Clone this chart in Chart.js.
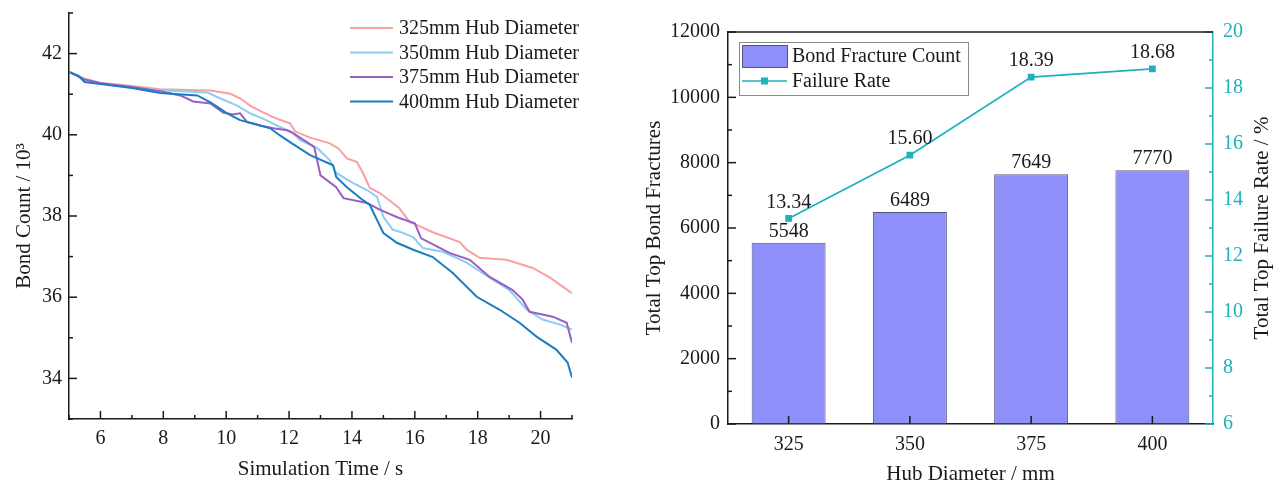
<!DOCTYPE html>
<html><head><meta charset="utf-8">
<script src="https://cdn.jsdelivr.net/npm/chart.js@4.4.1/dist/chart.umd.min.js"></script>
<style>
html,body{margin:0;padding:0;background:#fff;overflow:hidden;}
#c1{position:absolute;left:0;top:0;}
#c2{position:absolute;left:620px;top:0;}
</style></head><body>
<canvas id="c1" width="620" height="488"></canvas>
<canvas id="c2" width="658" height="488"></canvas>
<script>
// ---------- data: left chart ----------
const seriesLabels = ['325mm Hub Diameter','350mm Hub Diameter','375mm Hub Diameter','400mm Hub Diameter'];
const seriesColors = ['#f7a1a1','#8dcdf1','#9a5fc3','#1a7dc1'];
const t325 = [5,5.5,6,7,7.9,9.5,10.13,10.44,10.76,11.17,11.6,12.03,12.2,12.67,13.3,13.56,13.84,14.16,14.35,14.57,14.9,15.3,15.5,15.84,16.06,16.57,17.43,17.65,18.06,18.92,19.75,20.3,21];
const v325 = [41.55,41.38,41.28,41.2,41.12,41.09,41.01,40.9,40.72,40.55,40.4,40.28,40.08,39.93,39.79,39.67,39.42,39.33,39.06,38.69,38.56,38.32,38.2,37.85,37.78,37.6,37.36,37.17,36.97,36.92,36.72,36.48,36.1];
const t350 = [5,5.5,6,7,7.9,9.4,9.8,10.35,10.76,11.17,11.6,12.1,12.35,12.9,13.3,13.5,14.0,14.48,14.8,15.0,15.3,15.5,15.95,16.26,16.9,17.65,18.38,19.0,19.56,20.06,20.6,21];
const v350 = [41.55,41.36,41.27,41.18,41.1,41.04,40.9,40.72,40.53,40.4,40.23,40.06,39.87,39.67,39.37,39.06,38.83,38.64,38.47,37.98,37.66,37.62,37.48,37.21,37.12,36.85,36.48,36.18,35.69,35.45,35.33,35.2];
const t375 = [5,5.5,6,7,7.9,8.54,8.95,9.5,9.9,10.2,10.44,10.67,11.08,11.5,11.94,12.13,12.8,13.0,13.5,13.73,14.48,14.9,15.5,16.0,16.2,16.5,17.1,17.75,18.38,19.1,19.43,19.65,20.39,20.83,21];
const v375 = [41.55,41.36,41.27,41.18,41.07,40.97,40.82,40.77,40.55,40.5,40.53,40.31,40.23,40.16,40.11,40.04,39.7,39.0,38.71,38.44,38.32,38.15,37.95,37.82,37.45,37.33,37.09,36.92,36.5,36.18,35.94,35.64,35.52,35.37,34.88];
const t400 = [5,5.3,5.5,6,7,7.9,9.08,9.5,10.03,10.44,10.86,11.4,11.7,12.03,12.67,13.4,13.5,13.84,14.35,14.57,14.8,15.0,15.43,15.95,16.57,17.2,17.97,18.7,19.33,19.87,20.5,20.86,21];
const v400 = [41.55,41.45,41.3,41.25,41.15,41.03,40.97,40.8,40.53,40.36,40.28,40.16,39.99,39.82,39.5,39.25,38.96,38.71,38.39,38.27,37.9,37.58,37.34,37.17,36.99,36.6,36.01,35.69,35.37,35.03,34.71,34.39,34.02];
const seriesTimes = [t325,t350,t375,t400];
const seriesValues = [v325,v350,v375,v400];
const timeTicks = [6,8,10,12,14,16,18,20];
const bondTicks = [34,36,38,40,42];

// ---------- data: right chart ----------
const hubDiameters = ['325','350','375','400'];
const fractureCounts = [5548,6489,7649,7770];
const failureRates = [13.34,15.60,18.39,18.68];

const FONT = "'Liberation Serif','Times New Roman',serif";
const TEAL = '#1fb1bc';
const BAR = '#8f8ffa';
Chart.defaults.font.family = FONT;
Chart.defaults.color = '#1a1a1a';

function noPad(s){ s.paddingTop=0; s.paddingBottom=0; s.paddingLeft=0; s.paddingRight=0; }

const inwardTicks = {
  id:'inwardTicks',
  afterDatasetsDraw(chart, args, opts){
    const ctx = chart.ctx;
    (opts.axes||[]).forEach(a=>{
      const s = chart.scales[a.id];
      ctx.save(); ctx.strokeStyle=a.color; ctx.lineWidth=1.5;
      const drawAt=(p,len)=>{
        ctx.beginPath();
        if (s.isHorizontal()){ ctx.moveTo(p,s.top); ctx.lineTo(p,s.top-len);}
        else if (s.position==='left'){ ctx.moveTo(s.right,p); ctx.lineTo(s.right+len,p);}
        else { ctx.moveTo(s.left,p); ctx.lineTo(s.left-len,p);}
        ctx.stroke();
      };
      s.ticks.forEach((t,i)=>drawAt(s.getPixelForTick(i),8));
      if (a.minor){
        for (let v=s.min; v<=s.max+1e-9; v+=a.minor){
          if(!s.ticks.some(t=>Math.abs(t.value-v)<1e-9)) drawAt(s.getPixelForValue(v),4);
        }
      }
      ctx.restore();
    });
  }
};

// ---------- left chart ----------
const leftLegend = {
  id:'leftLegend',
  afterDraw(chart){
    const ctx = chart.ctx;
    ctx.save();
    ctx.font = '20px '+FONT; ctx.textBaseline='middle'; ctx.fillStyle='#1a1a1a';
    chart.data.datasets.forEach((ds,i)=>{
      const y = 28 + i*24.5;
      ctx.strokeStyle = ds.borderColor; ctx.lineWidth = 2;
      ctx.beginPath(); ctx.moveTo(350,y); ctx.lineTo(393,y); ctx.stroke();
      ctx.fillText(ds.label, 399, y+1);
    });
    ctx.restore();
  }
};

new Chart(document.getElementById('c1'), {
  type:'line',
  data:{datasets: seriesLabels.map((lab,i)=>({
    label: lab,
    data: seriesTimes[i].map((t,j)=>({x:t,y:seriesValues[i][j]})),
    borderColor: seriesColors[i], borderWidth:2, pointRadius:0, tension:0,
    order: 3-i, fill:false
  }))},
  options:{
    responsive:false, animation:false, devicePixelRatio:1,
    layout:{padding:{top:13,right:48,left:0,bottom:5}},
    plugins:{legend:{display:false}, tooltip:{enabled:false},
      inwardTicks:{axes:[{id:'x',color:'#1a1a1a',minor:1},{id:'y',color:'#1a1a1a',minor:1}]}},
    scales:{
      x:{type:'linear', min:5, max:21,
        ticks:{padding:8, color:'#1a1a1a', font:{size:20}, callback:v=>String(v)},
        afterBuildTicks(s){ s.ticks = timeTicks.map(v=>({value:v})); },
        grid:{display:true, drawOnChartArea:false, drawTicks:false},
        border:{display:true, color:'#1a1a1a', width:1.5},
        title:{display:true, text:'Simulation Time / s', font:{size:21}, color:'#1a1a1a', padding:{top:0,bottom:1}},
        afterFit(s){ s.height = 64; noPad(s); }
      },
      y:{type:'linear', min:33, max:43,
        ticks:{padding:7, color:'#1a1a1a', font:{size:20}, callback:v=>String(v)},
        afterBuildTicks(s){ s.ticks = bondTicks.map(v=>({value:v})); },
        grid:{display:true, drawOnChartArea:false, drawTicks:false},
        border:{display:true, color:'#1a1a1a', width:1.5},
        title:{display:true, text:'Bond Count / 10³', font:{size:21}, color:'#1a1a1a', padding:{top:12,bottom:0}},
        afterFit(s){ s.width = 69; noPad(s); }
      }
    }
  },
  plugins:[inwardTicks, leftLegend]
});

// ---------- right chart ----------
const rightExtras = {
  id:'rightExtras',
  afterDraw(chart){
    const ctx = chart.ctx; const ca = chart.chartArea;
    ctx.save();
    ctx.strokeStyle='#1a1a1a'; ctx.lineWidth=1.5;
    ctx.beginPath(); ctx.moveTo(ca.left,ca.top); ctx.lineTo(ca.right,ca.top); ctx.stroke();
    ctx.font='20px '+FONT; ctx.fillStyle='#1a1a1a'; ctx.textAlign='center'; ctx.textBaseline='middle';
    chart.data.datasets.forEach((ds,di)=>{
      const meta = chart.getDatasetMeta(di);
      meta.data.forEach((el,i)=>{
        if (ds.type==='bar') ctx.fillText(String(ds.data[i]), el.x, el.y-11);
        else ctx.fillText(ds.data[i].toFixed(2), el.x, el.y-16);
      });
    });
    ctx.save();
    ctx.translate(642, (ca.top+ca.bottom)/2);
    ctx.rotate(-Math.PI/2);
    ctx.font='21px '+FONT; ctx.fillText('Total Top Failure Rate / %',0,0);
    ctx.restore();
    const bx=119, by=42, bw=229, bh=53;
    ctx.fillStyle='#fff'; ctx.fillRect(bx,by,bw,bh);
    ctx.strokeStyle='#8a8a8a'; ctx.lineWidth=1; ctx.strokeRect(bx+0.5,by+0.5,bw,bh);
    const bar = chart.data.datasets[1], line = chart.data.datasets[0];
    ctx.fillStyle=bar.backgroundColor; ctx.fillRect(122,45,45,22);
    ctx.strokeStyle=bar.borderColor; ctx.strokeRect(122.5,45.5,45,22);
    ctx.strokeStyle=line.borderColor; ctx.lineWidth=1.5;
    ctx.beginPath(); ctx.moveTo(122,81); ctx.lineTo(167,81); ctx.stroke();
    ctx.fillStyle=line.borderColor; ctx.fillRect(141,77.5,7,7);
    ctx.fillStyle='#1a1a1a'; ctx.textAlign='left';
    ctx.fillText(bar.label,172,57);
    ctx.fillText(line.label,172,82);
    ctx.restore();
  }
};

new Chart(document.getElementById('c2'), {
  data:{
    labels: hubDiameters,
    datasets:[
      {type:'line', label:'Failure Rate', data:failureRates, yAxisID:'y2',
        borderColor:TEAL, backgroundColor:TEAL, borderWidth:1.8, pointStyle:'rect',
        pointRadius:3.5, tension:0, order:0},
      {type:'bar', label:'Bond Fracture Count', data:fractureCounts, yAxisID:'y',
        backgroundColor:BAR, borderColor:'#55557a', borderWidth:1,
        barPercentage:0.61, categoryPercentage:1.0, order:1}
    ]
  },
  options:{
    responsive:false, animation:false, devicePixelRatio:1,
    layout:{padding:{top:32,right:0,left:0,bottom:0}},
    plugins:{legend:{display:false}, tooltip:{enabled:false},
      inwardTicks:{axes:[{id:'x',color:'#1a1a1a'},{id:'y',color:'#1a1a1a',minor:1000},{id:'y2',color:TEAL,minor:1}]}},
    scales:{
      x:{type:'category', offset:true,
        ticks:{padding:9, color:'#1a1a1a', font:{size:20}},
        grid:{display:true, drawOnChartArea:false, drawTicks:false, offset:true},
        border:{display:true, color:'#1a1a1a', width:1.5},
        title:{display:true, text:'Hub Diameter / mm', font:{size:21}, color:'#1a1a1a', padding:{top:0,bottom:1}},
        afterFit(s){ s.height = 64; noPad(s); }
      },
      y:{type:'linear', position:'left', min:0, max:12000,
        ticks:{stepSize:2000, padding:8, color:'#1a1a1a', font:{size:20}, callback:v=>String(v)},
        grid:{display:true, drawOnChartArea:false, drawTicks:false},
        border:{display:true, color:'#1a1a1a', width:1.5},
        title:{display:true, text:'Total Top Bond Fractures', font:{size:21}, color:'#1a1a1a', padding:{top:22,bottom:0}},
        afterFit(s){ s.width = 108; noPad(s); }
      },
      y2:{type:'linear', position:'right', min:6, max:20,
        ticks:{stepSize:2, padding:10, color:TEAL, font:{size:20}, callback:v=>String(v)},
        grid:{display:true, drawOnChartArea:false, drawTicks:false},
        border:{display:true, color:TEAL, width:1.5},
        afterFit(s){ s.width = 65; noPad(s); }
      }
    }
  },
  plugins:[inwardTicks, rightExtras]
});
</script>
</body></html>
